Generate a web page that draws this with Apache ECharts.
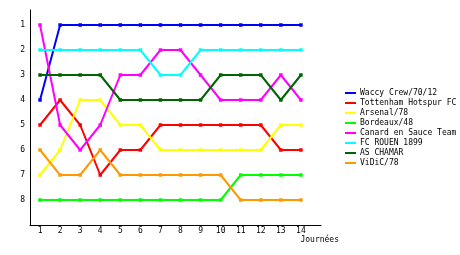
<!DOCTYPE html>
<html>
<head>
<meta charset="utf-8">
<script src="https://cdn.jsdelivr.net/npm/echarts@6/dist/echarts.min.js"></script>
<style>html,body{margin:0;padding:0;background:#fff;}#c{width:460px;height:255px;}</style>
</head>
<body>
<div id="c"></div>
<script>
var journees = [1,2,3,4,5,6,7,8,9,10,11,12,13,14];
var rankTicks = [1,2,3,4,5,6,7,8];
var teamNames = ['Waccy Crew/70/12','Tottenham Hotspur FC','Arsenal/78','Bordeaux/48','Canard en Sauce Team','FC ROUEN 1899','AS CHAMAR','ViDiC/78'];
var waccy     = [4,1,1,1,1,1,1,1,1,1,1,1,1,1];
var tottenham = [5,4,5,7,6,6,5,5,5,5,5,5,6,6];
var arsenal   = [7,6,4,4,5,5,6,6,6,6,6,6,5,5];
var bordeaux  = [8,8,8,8,8,8,8,8,8,8,7,7,7,7];
var canard    = [1,5,6,5,3,3,2,2,3,4,4,4,3,4];
var rouen     = [2,2,2,2,2,2,3,3,2,2,2,2,2,2];
var chamar    = [3,3,3,3,4,4,4,4,4,3,3,3,4,3];
var vidic     = [6,7,7,6,7,7,7,7,7,7,8,8,8,8];
var teamColors = ['#0000ff','#ff0000','#ffff00','#00ff00','#ff00ff','#00ffff','#006400','#ff9900'];

var allValues = [waccy,tottenham,arsenal,bordeaux,canard,rouen,chamar,vidic];
var font = 'DejaVu Sans Mono';
var series = teamNames.map(function(n,i){
  return {
    name:n, type:'line', color:teamColors[i],
    data: journees.map(function(j,k){return [j, allValues[i][k]];}),
    symbol:'rect', symbolSize:3.5, showSymbol:true,
    lineStyle:{width:2, color:teamColors[i]},
    itemStyle:{color:teamColors[i]},
    animation:false
  };
});
var chart = echarts.init(document.getElementById('c'));
chart.setOption({
  animation:false,
  grid:{left:30, right:139, top:10, bottom:30},
  legend:{
    orient:'vertical', left:340, top:83,
    icon:'rect', itemWidth:11, itemHeight:2, itemGap:0,
    textStyle:{fontFamily:font, fontSize:8, color:'#000', lineHeight:10, padding:[0,0,0,-1]},
    data:teamNames
  },
  xAxis:{
    type:'value', min:0.5, max:15,
    name:'Journées', nameLocation:'end', nameGap:18,
    nameTextStyle:{fontFamily:font, fontSize:8, color:'#000', align:'right', verticalAlign:'top', padding:[11,0,0,0]},
    axisLine:{lineStyle:{color:'#000', width:1}},
    axisTick:{show:false},
    splitLine:{show:false},
    axisLabel:{customValues:journees, fontFamily:font, fontSize:8, color:'#000', margin:2}
  },
  yAxis:{
    type:'value', min:0.4, max:9, inverse:true,
    axisLine:{show:true, lineStyle:{color:'#000', width:1}},
    axisTick:{show:false},
    splitLine:{show:false},
    axisLabel:{customValues:rankTicks, fontFamily:font, fontSize:8, color:'#000', margin:5}
  },
  series:series
});
</script>
</body>
</html>
